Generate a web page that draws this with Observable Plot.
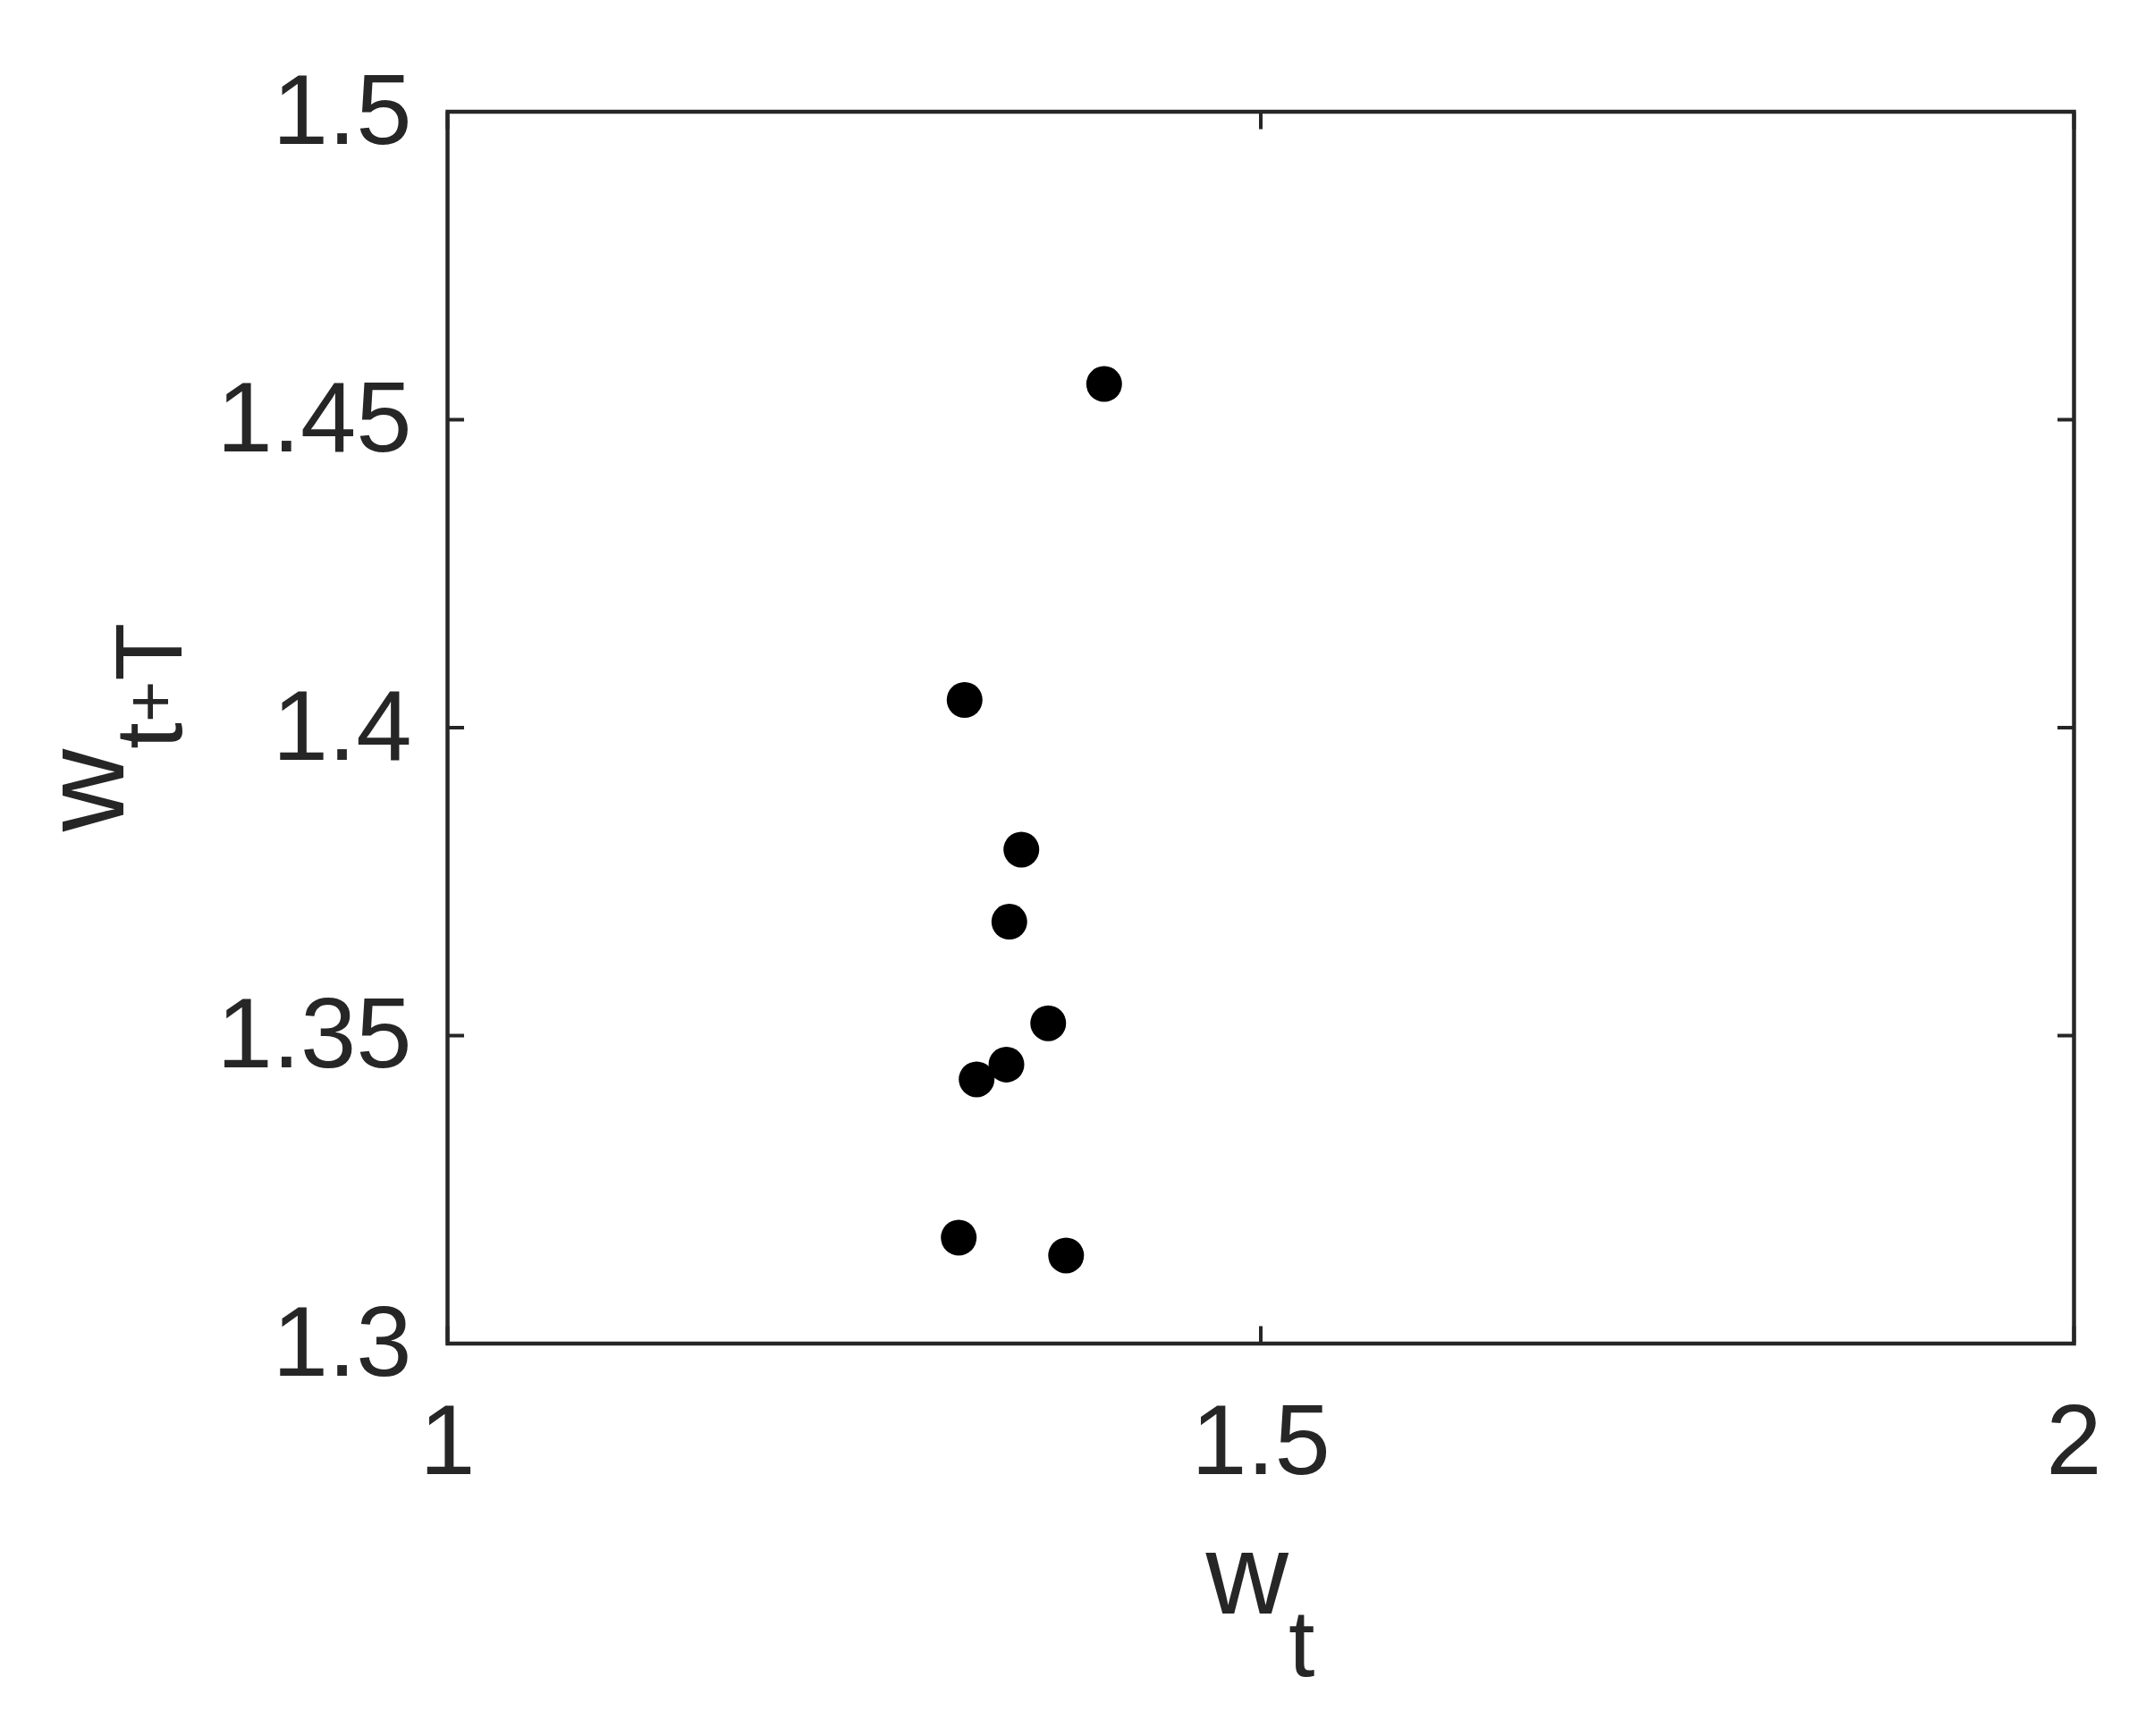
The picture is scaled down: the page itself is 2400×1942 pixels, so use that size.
<!DOCTYPE html>
<html>
<head>
<meta charset="utf-8">
<script src="https://cdn.jsdelivr.net/npm/d3@7"></script>
<script src="https://cdn.jsdelivr.net/npm/@observablehq/plot@0.6"></script>
<style>
  html, body { margin: 0; padding: 0; background: #fff; }
  #chart { width: 2400px; height: 1942px; }
</style>
</head>
<body>
<div id="chart"></div>
<script>
// Data
const wt  = [1.4037, 1.3179, 1.3528, 1.3454, 1.3693, 1.3436, 1.3253, 1.3143, 1.3803];
const wtT = [1.4558, 1.4045, 1.3802, 1.3685, 1.3520, 1.3453, 1.3429, 1.3172, 1.3143];
const xTicks = [1, 1.5, 2];
const yTicks = [1.3, 1.35, 1.4, 1.45, 1.5];
const xTickLabels = ["1", "1.5", "2"];
const yTickLabels = ["1.3", "1.35", "1.4", "1.45", "1.5"];

const points = wt.map((x, i) => ({x, y: wtT[i]}));
const ink = "#262626";
const font = "'Liberation Sans', Arial, Helvetica, sans-serif";

const plot = Plot.plot({
  width: 2400,
  height: 1942,
  marginLeft: 500,
  marginRight: 81,
  marginTop: 124.5,
  marginBottom: 439.5,
  style: {fontFamily: font, fontSize: "112px", color: ink, background: "#fff"},
  x: {domain: [1, 2]},
  y: {domain: [1.3, 1.5]},
  marks: [
    Plot.axisX({anchor: "bottom", ticks: xTicks, tickSize: -19, tickPadding: 85, strokeWidth: 4,
      tickFormat: d => xTickLabels[xTicks.indexOf(d)], label: null}),
    Plot.axisX({anchor: "top", ticks: xTicks, tickSize: -19, strokeWidth: 4, tickFormat: () => "", label: null}),
    Plot.axisY({anchor: "left", ticks: yTicks, tickSize: -19, tickPadding: 59, strokeWidth: 4,
      tickFormat: d => yTickLabels[yTicks.findIndex(t => Math.abs(t - d) < 1e-9)], label: null}),
    Plot.axisY({anchor: "right", ticks: yTicks, tickSize: -19, strokeWidth: 4, tickFormat: () => "", label: null}),
    Plot.frame({stroke: ink, strokeWidth: 4.5}),
    Plot.dot(points, {x: "x", y: "y", r: 20, fill: "#000", stroke: null})
  ]
});

document.getElementById("chart").appendChild(plot);

// Axis titles with subscripts
const svg = d3.select(plot);
const xs = plot.scale("x"), ys = plot.scale("y");
const cx = (xs.range[0] + xs.range[1]) / 2;
const cy = (ys.range[0] + ys.range[1]) / 2;

const xl = svg.append("text")
  .attr("x", cx).attr("y", 1805)
  .attr("text-anchor", "middle")
  .attr("fill", ink)
  .style("font-family", font)
  .style("font-size", "128px");
xl.append("tspan").text("w");
xl.append("tspan").attr("dy", 70).style("font-size", "106px").text("t");

const yl = svg.append("text")
  .attr("transform", `translate(138,${cy}) rotate(-90)`)
  .attr("text-anchor", "middle")
  .attr("fill", ink)
  .style("font-family", font)
  .style("font-size", "128px");
yl.append("tspan").text("w");
yl.append("tspan").attr("dy", 65).style("font-size", "106px").text("t");
yl.append("tspan").attr("dy", -8).style("font-size", "80px").text("+");
yl.append("tspan").attr("dy", 8).style("font-size", "106px").text("T");
</script>
</body>
</html>
